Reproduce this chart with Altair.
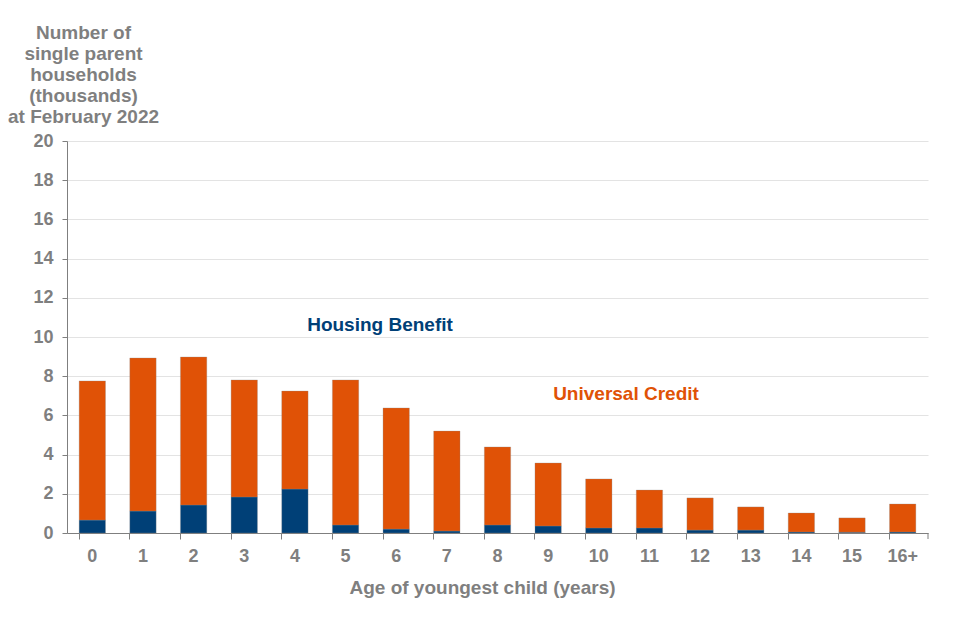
import altair as alt
import pandas as pd

ages = ["0", "1", "2", "3", "4", "5", "6", "7", "8", "9", "10", "11", "12", "13", "14", "15", "16+"]
totals = [7.76, 8.93, 8.98, 7.81, 7.24, 7.81, 6.38, 5.20, 4.39, 3.57, 2.76, 2.19, 1.79, 1.33, 1.02, 0.77, 1.48]
housing_benefit = [0.66, 1.12, 1.43, 1.84, 2.24, 0.41, 0.20, 0.10, 0.41, 0.36, 0.26, 0.26, 0.15, 0.15, 0.05, 0.04, 0.05]
universal_credit = [round(t - h, 2) for t, h in zip(totals, housing_benefit)]

series = ["Housing Benefit", "Universal Credit"]
colors = ["#004077", "#E05206"]

rows = []
for a, h, u in zip(ages, housing_benefit, universal_credit):
    rows.append({"age": a, "series": "Housing Benefit", "value": h, "order": 0})
    rows.append({"age": a, "series": "Universal Credit", "value": u, "order": 1})
df = pd.DataFrame(rows)

gray = "#7F7F7F"
font = "Liberation Sans"
W, H = 861, 392

bars = alt.Chart(df).mark_bar(stroke="#8a8a8a", strokeWidth=0.3).encode(
    x=alt.X("age:N", sort=ages,
            scale=alt.Scale(paddingInner=0.48, paddingOuter=0.24),
            axis=alt.Axis(title="Age of youngest child (years)", labelAngle=0,
                          labelFont=font, labelFontSize=18, labelFontWeight="bold",
                          labelColor=gray, labelPadding=8,
                          titleFont=font, titleFontSize=19, titleFontWeight="bold",
                          titleColor=gray, titlePadding=13,
                          titleX=415, titleAlign="center",
                          domainColor=gray, tickColor=gray, tickSize=6,
                          bandPosition=0, grid=False)),
    y=alt.Y("value:Q", stack="zero",
            scale=alt.Scale(domain=[0, 20], nice=False),
            axis=alt.Axis(values=list(range(0, 21, 2)),
                          title=["Number of", "single parent", "households",
                                 "(thousands)", "at February 2022"],
                          titleAngle=0, titleAlign="center", titleBaseline="top",
                          titleX=16, titleY=-118, titleLineHeight=21,
                          titleFont=font, titleFontSize=19, titleFontWeight="bold",
                          titleColor=gray,
                          labelFont=font, labelFontSize=18, labelFontWeight="bold",
                          labelColor=gray, labelPadding=9,
                          domainColor=gray, tickColor=gray, tickSize=5,
                          gridColor="#E3E3E3", gridWidth=1)),
    color=alt.Color("series:N", scale=alt.Scale(domain=series, range=colors), legend=None),
    order=alt.Order("order:Q"),
)

# closing tick at right end of x axis
end_tick = alt.Chart(pd.DataFrame({"a": [0]})).mark_rule(color=gray).encode(
    x=alt.value(W), y=alt.value(H), y2=alt.value(H + 6)
)

labels_df = pd.DataFrame({
    "text": series,
    "px": [380 - 67, 626 - 67],
    "py": [325 - 141, 394 - 141],
    "c": colors,
})
labels = alt.Chart(labels_df).mark_text(
    font=font, fontSize=19, fontWeight="bold", align="center", baseline="middle"
).encode(
    x=alt.X("px:Q", scale=None),
    y=alt.Y("py:Q", scale=None),
    text="text:N",
    color=alt.Color("c:N", scale=None),
)

chart = alt.layer(bars, end_tick, labels).properties(
    width=W, height=H,
    background="white",
    autosize=alt.AutoSizeParams(type="none"),
    padding={"left": 59, "top": 133, "right": 20, "bottom": 80},
).configure_view(stroke=None)

chart.save("out.html", embed_options={"renderer": "svg", "actions": False})
